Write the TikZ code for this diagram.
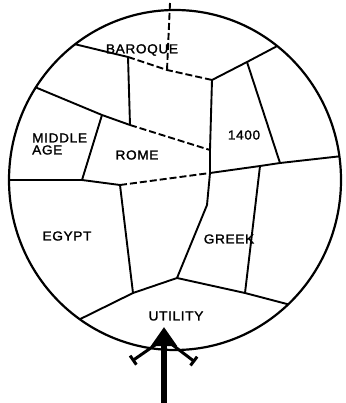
\documentclass[tikz,border=0pt]{standalone}
\usepackage{fontspec}
\newfontfamily\erafont[LetterSpace=5,FakeStretch=1.05,FakeBold=1.5]{Liberation Sans}
\usetikzlibrary{arrows.meta}
\tikzset{
	wall/.style={line width=1.9pt, line join=round},
	faint/.style={wall, dash pattern=on 7pt off 3pt},
	era/.style={font=\erafont\fontsize{13}{12}\selectfont, inner sep=0pt}
}
\begin{document}
\begin{tikzpicture}[x=1pt,y=-1pt]
	\useasboundingbox (0,0) rectangle (345,403);
	\coordinate (o) at (175,180);
	\draw[line width=2.2pt] (o) ellipse [x radius=166, y radius=170];
	\foreach \n/\a in {b1/233, b2/308, m1/213, l1/180, r1/352, u1/125, u2/47}
		\path (o) ++(\a:166 and 170) coordinate (\n);
	\foreach \n/\x/\y in {top/170/3, p1/128/57, p2/167/70, p3/212/80, p4/247/62, p5/130/125,
		p6/102/115, p7/210/150, p8/82/180, p9/120/185, p10/210/173, p11/260/166, p12/280/163,
		p13/207/205, q1/133/293, q2/177/278, q3/245/293}
		\coordinate (\n) at (\x,\y);

	\draw[wall] (b1) -- (p1);
	\draw[faint] (p1) -- (p2) -- (p3);
	\draw[faint] (top) -- (p2);
	\draw[wall] (p3) -- (p4) -- (b2);
	\draw[wall] (p4) -- (p12);
	\draw[wall] (p1) -- (p5);
	\draw[wall] (m1) -- (p6) -- (p5);
	\draw[faint] (p5) -- (p7);
	\draw[wall] (p3) -- (p7) -- (p10) -- (p13) -- (q2);
	\draw[wall] (p6) -- (p8);
	\draw[wall] (l1) -- (p8) -- (p9);
	\draw[faint] (p9) -- (p10);
	\draw[wall] (p10) -- (p11) -- (p12) -- (r1);
	\draw[wall] (p9) -- (q1);
	\draw[wall] (p11) -- (q3);
	\draw[wall] (u1) -- (q1) -- (q2) -- (q3) -- (u2);

	\node[era] (baroque) at (142,50) {BAROQUE};
	\node[era, align=left, anchor=west] (middle) at (32,144) {MIDDLE\\AGE};
	\node[era] (rome) at (137,155) {ROME};
	\node[era] (c1400) at (244,135) {1400};
	\node[era] (egypt) at (67,236) {EGYPT};
	\node[era] (greek) at (229,239) {GREEK};
	\node[era] (utility) at (176,316) {UTILITY};

	\coordinate (foot) at (164,403);
	\coordinate (tip) at (164,327);
	\coordinate (forkl) at (158,343);
	\coordinate (forkr) at (170,343);
	\coordinate (sl) at (132,361);
	\coordinate (sr) at (195,362);
	\draw[line width=5.5pt, -{Triangle[length=19pt,width=25pt]}] (foot) -- (tip);
	\draw[line width=3pt, -{Bar[width=11pt]}] (forkl) -- (sl);
	\draw[line width=3pt, -{Bar[width=11pt]}] (forkr) -- (sr);
\end{tikzpicture}
\end{document}
